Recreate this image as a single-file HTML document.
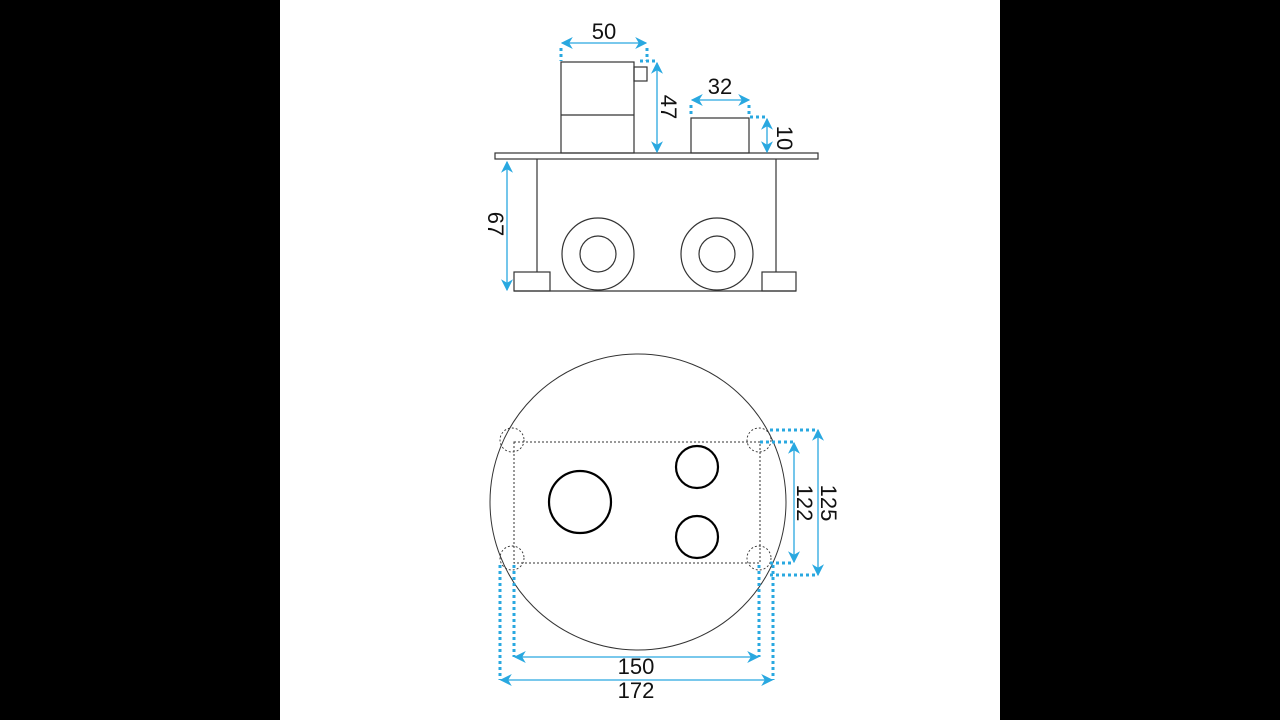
<!DOCTYPE html>
<html><head><style>body{margin:0;background:#000}svg{display:block}</style></head><body>
<svg width="1280" height="720" viewBox="0 0 1280 720" xmlns="http://www.w3.org/2000/svg">
<defs>
<marker id="a" viewBox="0 0 10 10" refX="9" refY="5" markerWidth="12" markerHeight="12" markerUnits="userSpaceOnUse" orient="auto-start-reverse"><path d="M0,0 L10,5 L0,10 L3,5 z" fill="#29a8e0"/></marker>
</defs>
<rect x="0" y="0" width="1280" height="720" fill="#000"/>
<rect x="280" y="0" width="720" height="720" fill="#fff"/>
<g fill="none" stroke="#333" stroke-width="1.2">
<rect x="495" y="153" width="323" height="6"/>
<line x1="537" y1="159" x2="537" y2="272"/><line x1="776" y1="159" x2="776" y2="272"/>
<rect x="514" y="272" width="36" height="19"/><rect x="762" y="272" width="34" height="19"/>
<line x1="514" y1="291" x2="796" y2="291"/>
<circle cx="598" cy="254" r="36"/><circle cx="598" cy="254" r="18"/>
<circle cx="717" cy="254" r="36"/><circle cx="717" cy="254" r="18"/>
<rect x="561" y="62" width="73" height="91"/><line x1="561" y1="115" x2="634" y2="115"/>
<rect x="634" y="67" width="13" height="14"/>
<rect x="691" y="118" width="58" height="35"/>
<circle cx="638" cy="502" r="148" stroke-width="1"/>
<rect x="514" y="442" width="246" height="121" stroke-dasharray="2,2" stroke-width="1"/>
<g stroke-dasharray="2,2" stroke-width="0.9">
<circle cx="512" cy="440" r="12"/><circle cx="759" cy="440" r="12"/>
<circle cx="512" cy="558" r="12"/><circle cx="759" cy="558" r="12"/>
</g>
</g>
<g fill="none" stroke="#000" stroke-width="2.2">
<circle cx="580" cy="502" r="31"/><circle cx="697" cy="467" r="21"/><circle cx="697" cy="537" r="21"/>
</g>
<g stroke="#29a8e0" stroke-width="1.3" fill="none">
<line x1="562" y1="43" x2="646" y2="43" marker-start="url(#a)" marker-end="url(#a)"/>
<line x1="657" y1="63" x2="657" y2="152" marker-start="url(#a)" marker-end="url(#a)"/>
<line x1="692" y1="100" x2="749" y2="100" marker-start="url(#a)" marker-end="url(#a)"/>
<line x1="767" y1="119" x2="767" y2="152" marker-start="url(#a)" marker-end="url(#a)"/>
<line x1="507" y1="162" x2="507" y2="290" marker-start="url(#a)" marker-end="url(#a)"/>
<line x1="794" y1="443" x2="794" y2="562" marker-start="url(#a)" marker-end="url(#a)"/>
<line x1="818" y1="430" x2="818" y2="575" marker-start="url(#a)" marker-end="url(#a)"/>
<line x1="515" y1="657" x2="758" y2="657" marker-start="url(#a)" marker-end="url(#a)"/>
<line x1="501" y1="680" x2="772" y2="680" marker-start="url(#a)" marker-end="url(#a)"/>
</g>
<g stroke="#29a8e0" stroke-width="3" stroke-dasharray="3,3" fill="none">
<line x1="561" y1="48" x2="561" y2="61"/><line x1="647" y1="48" x2="647" y2="61"/>
<line x1="640" y1="61" x2="658" y2="61"/>
<line x1="691" y1="105" x2="691" y2="117"/><line x1="749" y1="105" x2="749" y2="117"/>
<line x1="750" y1="117" x2="768" y2="117"/>
<line x1="770" y1="430" x2="818" y2="430"/><line x1="760" y1="442" x2="794" y2="442"/>
<line x1="770" y1="563" x2="794" y2="563"/><line x1="770" y1="575" x2="818" y2="575"/>
<line x1="514" y1="565" x2="514" y2="657"/><line x1="759" y1="565" x2="759" y2="657"/>
<line x1="500" y1="565" x2="500" y2="680"/><line x1="773" y1="565" x2="773" y2="680"/>
</g>
<g font-family="Liberation Sans Narrow, Liberation Sans, sans-serif" font-size="22" fill="#111" text-anchor="middle">
<text x="604" y="39">50</text>
<text x="720" y="94">32</text>
<text x="0" y="0" transform="translate(661,107) rotate(90)">47</text>
<text x="0" y="0" transform="translate(777,138) rotate(90)">10</text>
<text x="0" y="0" transform="translate(488,224) rotate(90)">67</text>
<text x="0" y="0" transform="translate(797,503) rotate(90)">122</text>
<text x="0" y="0" transform="translate(821,503) rotate(90)">125</text>
<text x="636" y="674">150</text>
<text x="636" y="698">172</text>
</g>
</svg>
</body></html>
